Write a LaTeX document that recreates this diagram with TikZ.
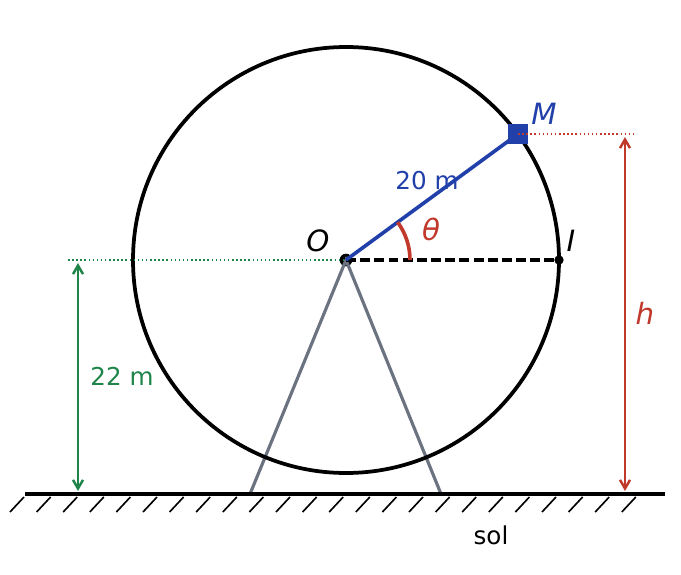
\documentclass[tikz,border=0pt]{standalone}
\usepackage{fontspec}
\setmainfont{DejaVu Sans}
\usetikzlibrary{arrows.meta, positioning, calc}
\definecolor{WheelBlue}{RGB}{33, 64, 170}
\definecolor{HeightRed}{RGB}{192, 57, 43}
\definecolor{BaseGreen}{RGB}{30, 132, 73}
\definecolor{LegGray}{RGB}{107, 114, 128}

\begin{document}
\begin{tikzpicture}[x=0.03cm, y=0.03cm,
        lbl/.style={font=\fontsize{21}{25}\selectfont, inner sep=0pt},
        pt/.style={font=\fontsize{25}{29}\selectfont\itshape, inner sep=0pt},
        dim/.style={{Straight Barb[length=2.6mm, width=3mm]}-{Straight Barb[length=2.6mm, width=3mm]}, line width=2.1pt},
        guide/.style={dash pattern=on 1.3pt off 2.2pt, line width=1.3pt},
        dot/.style={circle, fill=black, inner sep=0pt, minimum size=#1}
    ]
        \useasboundingbox (0,0) rectangle (681,574);

        % Centre, points and ground
        \node[dot=0.38cm] (o) at (346,314) {};
        \node[dot=0.28cm] (i) at (559,314) {};
        \coordinate (gl) at (25,80);
        \coordinate (gr) at (665,80);
        \coordinate (fl) at (250,80);
        \coordinate (fr) at (441,80);

        % Legs
        \draw[LegGray, line width=2.7pt] (fl) -- (o.center) -- (fr);

        % Wheel
        \draw[line width=3.2pt] (o.center) circle (213);
        \draw[line width=3pt, dash pattern=on 8.5pt off 3.6pt] (o.center) -- (i.center);

        % Ground and hatching
        \draw[line width=4.2pt] (gl) -- (gr);
        \foreach \k in {0,...,23}
            \draw[line width=1.4pt] ($(gl)+(-1+26.6*\k,-3)$) -- ++(-14,-15);
        \node[lbl] (sol) at (491,39) {sol};

        % Radius to M
        \node[rectangle, fill=WheelBlue, inner sep=0pt, minimum size=0.58cm] (m) at (518,440) {};
        \draw[WheelBlue, line width=3.1pt] (o.center) -- (m.center);
        \node[rectangle, fill=WheelBlue, inner sep=0pt, minimum size=0.58cm] at (m) {};
        \node[lbl, text=WheelBlue] (r) at (427,393) {20 m};
        \draw[HeightRed, line width=3.1pt] ($(o.center)+(64,0)$) arc[start angle=0, end angle=36.2, radius=64];
        \node[pt, text=HeightRed] (th) at (431,345) {θ};

        % Point labels
        \node[pt] (olbl) at (318,333) {O};
        \node[pt, text=WheelBlue] (mlbl) at (544,460) {M};
        \node[pt] (ilbl) at (571,333) {I};

        % Height of the centre
        \coordinate (g0) at (68,314);
        \coordinate (gt) at (78,311);
        \coordinate (gb) at (78,83);
        \draw[guide, BaseGreen] (g0) -- (o.center);
        \draw[dim, BaseGreen] (gt) -- (gb);
        \node[lbl, text=BaseGreen] (base) at (122,198) {22 m};

        % Height of M
        \coordinate (h0) at (635,440);
        \coordinate (ht) at (625,437);
        \coordinate (hb) at (625,83);
        \draw[guide, HeightRed] (m.center) -- (h0);
        \draw[dim, HeightRed] (ht) -- (hb);
        \node[pt, text=HeightRed] (hlbl) at (645,261) {h};
    \end{tikzpicture}
\end{document}
